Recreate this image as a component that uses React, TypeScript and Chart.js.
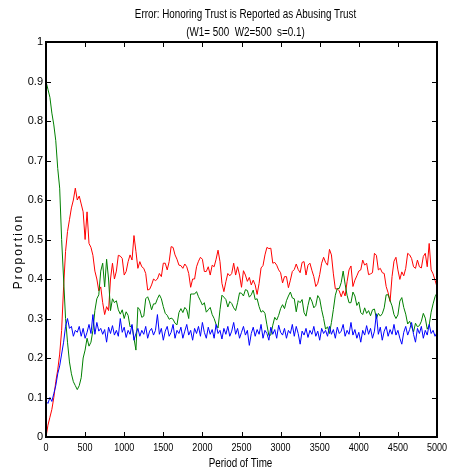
import React, { useEffect, useRef } from "react";
import { Chart, registerables } from "chart.js";

Chart.register(...registerables);

const periods = [
  0, 25, 50, 75, 100, 125, 150, 175, 200, 225, 250, 275, 300, 325, 350, 375, 400, 425, 450, 475,
  500, 525, 550, 575, 600, 625, 650, 675, 700, 725, 750, 775, 800, 825, 850, 875, 900, 925, 950, 975,
  1000, 1025, 1050, 1075, 1100, 1125, 1150, 1175, 1200, 1225, 1250, 1275, 1300, 1325, 1350, 1375, 1400, 1425, 1450, 1475,
  1500, 1525, 1550, 1575, 1600, 1625, 1650, 1675, 1700, 1725, 1750, 1775, 1800, 1825, 1850, 1875, 1900, 1925, 1950, 1975,
  2000, 2025, 2050, 2075, 2100, 2125, 2150, 2175, 2200, 2225, 2250, 2275, 2300, 2325, 2350, 2375, 2400, 2425, 2450, 2475,
  2500, 2525, 2550, 2575, 2600, 2625, 2650, 2675, 2700, 2725, 2750, 2775, 2800, 2825, 2850, 2875, 2900, 2925, 2950, 2975,
  3000, 3025, 3050, 3075, 3100, 3125, 3150, 3175, 3200, 3225, 3250, 3275, 3300, 3325, 3350, 3375, 3400, 3425, 3450, 3475,
  3500, 3525, 3550, 3575, 3600, 3625, 3650, 3675, 3700, 3725, 3750, 3775, 3800, 3825, 3850, 3875, 3900, 3925, 3950, 3975,
  4000, 4025, 4050, 4075, 4100, 4125, 4150, 4175, 4200, 4225, 4250, 4275, 4300, 4325, 4350, 4375, 4400, 4425, 4450, 4475,
  4500, 4525, 4550, 4575, 4600, 4625, 4650, 4675, 4700, 4725, 4750, 4775, 4800, 4825, 4850, 4875, 4900, 4925, 4950, 4975,
  5000,
];

const seriesRed = [
  0.00, 0.03, 0.05, 0.07, 0.10, 0.14, 0.17, 0.21, 0.27, 0.38, 0.47, 0.52, 0.55, 0.58, 0.60, 0.63, 0.60, 0.61, 0.59, 0.57,
  0.50, 0.57, 0.49, 0.48, 0.46, 0.42, 0.40, 0.37, 0.38, 0.34, 0.31, 0.33, 0.32, 0.40, 0.44, 0.40, 0.42, 0.46, 0.458, 0.452,
  0.41, 0.419, 0.444, 0.461, 0.448, 0.51, 0.47, 0.427, 0.444, 0.431, 0.427, 0.414, 0.372, 0.374, 0.385, 0.40, 0.396, 0.40, 0.414, 0.406,
  0.44, 0.44, 0.423, 0.444, 0.482, 0.48, 0.461, 0.45, 0.435, 0.434, 0.427, 0.438, 0.431, 0.414, 0.379, 0.40, 0.40, 0.431, 0.445, 0.455,
  0.45, 0.419, 0.419, 0.431, 0.41, 0.435, 0.431, 0.45, 0.473, 0.444, 0.389, 0.368, 0.393, 0.414, 0.408, 0.414, 0.44, 0.41, 0.431, 0.41,
  0.379, 0.421, 0.41, 0.394, 0.404, 0.385, 0.397, 0.385, 0.361, 0.389, 0.428, 0.434, 0.461, 0.48, 0.477, 0.478, 0.44, 0.442, 0.435, 0.423,
  0.416, 0.39, 0.406, 0.406, 0.378, 0.397, 0.419, 0.424, 0.438, 0.424, 0.416, 0.442, 0.444, 0.41, 0.435, 0.44, 0.422, 0.406, 0.381, 0.389,
  0.411, 0.44, 0.455, 0.442, 0.435, 0.475, 0.461, 0.413, 0.375, 0.375, 0.37, 0.355, 0.37, 0.357, 0.393, 0.423, 0.433, 0.381, 0.397, 0.408,
  0.42, 0.423, 0.448, 0.435, 0.44, 0.411, 0.413, 0.416, 0.465, 0.46, 0.423, 0.427, 0.416, 0.414, 0.381, 0.365, 0.343, 0.406, 0.445, 0.455,
  0.423, 0.399, 0.418, 0.408, 0.427, 0.465, 0.461, 0.452, 0.431, 0.427, 0.448, 0.431, 0.428, 0.457, 0.465, 0.431, 0.49, 0.423, 0.413, 0.397,
  0.38,
];

const seriesGreen = [
  0.90, 0.88, 0.86, 0.82, 0.79, 0.75, 0.68, 0.63, 0.50, 0.40, 0.30, 0.24, 0.19, 0.16, 0.14, 0.13, 0.12, 0.13, 0.15, 0.20,
  0.22, 0.25, 0.23, 0.24, 0.27, 0.32, 0.35, 0.36, 0.42, 0.44, 0.38, 0.45, 0.40, 0.32, 0.35, 0.34, 0.345, 0.322, 0.311, 0.322,
  0.30, 0.317, 0.308, 0.279, 0.282, 0.25, 0.22, 0.328, 0.322, 0.303, 0.306, 0.35, 0.355, 0.342, 0.322, 0.337, 0.337, 0.35, 0.36, 0.35,
  0.33, 0.313, 0.308, 0.298, 0.301, 0.298, 0.288, 0.284, 0.315, 0.325, 0.315, 0.328, 0.322, 0.30, 0.362, 0.362, 0.362, 0.368, 0.355, 0.345,
  0.334, 0.34, 0.316, 0.322, 0.328, 0.31, 0.30, 0.285, 0.276, 0.322, 0.359, 0.354, 0.348, 0.329, 0.343, 0.338, 0.327, 0.32, 0.34, 0.365,
  0.364, 0.357, 0.373, 0.371, 0.354, 0.36, 0.372, 0.348, 0.35, 0.33, 0.316, 0.32, 0.313, 0.284, 0.257, 0.258, 0.283, 0.303, 0.296, 0.308,
  0.325, 0.335, 0.325, 0.345, 0.357, 0.367, 0.352, 0.35, 0.317, 0.345, 0.34, 0.348, 0.315, 0.306, 0.333, 0.354, 0.344, 0.327, 0.333, 0.358,
  0.35, 0.322, 0.30, 0.273, 0.279, 0.262, 0.29, 0.323, 0.359, 0.376, 0.376, 0.391, 0.42, 0.387, 0.359, 0.34, 0.34, 0.367, 0.357, 0.333,
  0.342, 0.315, 0.31, 0.327, 0.313, 0.32, 0.307, 0.322, 0.324, 0.30, 0.313, 0.306, 0.312, 0.327, 0.36, 0.36, 0.345, 0.332, 0.31, 0.30,
  0.309, 0.344, 0.353, 0.328, 0.311, 0.286, 0.293, 0.28, 0.266, 0.288, 0.279, 0.282, 0.293, 0.313, 0.301, 0.273, 0.283, 0.316, 0.337, 0.355,
  0.365,
];

const seriesBlue = [
  0.09, 0.085, 0.10, 0.09, 0.11, 0.13, 0.16, 0.18, 0.21, 0.24, 0.28, 0.30, 0.275, 0.28, 0.255, 0.27, 0.265, 0.28, 0.255, 0.275,
  0.25, 0.265, 0.285, 0.262, 0.31, 0.26, 0.29, 0.268, 0.275, 0.26, 0.272, 0.24, 0.278, 0.262, 0.282, 0.258, 0.27, 0.255, 0.30, 0.265,
  0.278, 0.252, 0.27, 0.26, 0.285, 0.245, 0.262, 0.275, 0.255, 0.27, 0.26, 0.28, 0.25, 0.268, 0.275, 0.258, 0.27, 0.31, 0.26, 0.275,
  0.245, 0.268, 0.28, 0.255, 0.265, 0.285, 0.25, 0.27, 0.262, 0.278, 0.25, 0.268, 0.285, 0.258, 0.27, 0.245, 0.275, 0.262, 0.28, 0.255,
  0.29, 0.265, 0.25, 0.278, 0.26, 0.272, 0.25, 0.285, 0.262, 0.27, 0.248, 0.275, 0.26, 0.28, 0.255, 0.268, 0.29, 0.26, 0.275, 0.25,
  0.265, 0.28, 0.258, 0.27, 0.232, 0.262, 0.278, 0.255, 0.272, 0.26, 0.285, 0.25, 0.27, 0.262, 0.245, 0.278, 0.26, 0.272, 0.25, 0.283,
  0.265, 0.258, 0.275, 0.25, 0.27, 0.262, 0.285, 0.255, 0.28, 0.262, 0.235, 0.268, 0.258, 0.275, 0.252, 0.27, 0.26, 0.28, 0.255, 0.268,
  0.245, 0.275, 0.262, 0.27, 0.255, 0.28, 0.26, 0.272, 0.25, 0.278, 0.262, 0.268, 0.285, 0.255, 0.27, 0.26, 0.29, 0.258, 0.272, 0.25,
  0.265, 0.24, 0.27, 0.258, 0.282, 0.26, 0.275, 0.25, 0.268, 0.312, 0.26, 0.278, 0.245, 0.268, 0.28, 0.255, 0.272, 0.26, 0.285, 0.258,
  0.27, 0.25, 0.235, 0.265, 0.28, 0.258, 0.272, 0.29, 0.26, 0.24, 0.275, 0.262, 0.28, 0.25, 0.27, 0.258, 0.285, 0.262, 0.27, 0.255,
  0.265,
];

const chartTitle = ["Error: Honoring Trust is Reported as Abusing Trust", "(W1= 500  W2=500  s=0.1)"];
const xAxisTitle = "Period of Time";
const yAxisTitle = "Proportion";

const FONT = "'Liberation Sans', Arial, Helvetica, sans-serif";
const SQUEEZE = 0.82;

function narrowText(ctx: CanvasRenderingContext2D, text: string, x: number, y: number, size: number, align: CanvasTextAlign) {
  ctx.save();
  ctx.translate(x, y);
  ctx.scale(SQUEEZE, 1);
  ctx.font = `${size}px ${FONT}`;
  ctx.fillStyle = "#000";
  ctx.textAlign = align;
  ctx.textBaseline = "middle";
  ctx.fillText(text, 0, 0);
  ctx.restore();
}

const framePlugin = {
  id: "matlabFrame",
  afterDraw(chart: any) {
    const { ctx, chartArea, scales } = chart;
    const { left, right, top, bottom } = chartArea;
    const tickLen = 5;
    ctx.save();
    ctx.strokeStyle = "#000";
    ctx.lineWidth = 1;
    ctx.beginPath();
    scales.x.ticks.forEach((t: any) => {
      const px = Math.round(scales.x.getPixelForValue(t.value)) + 0.5;
      ctx.moveTo(px, bottom);
      ctx.lineTo(px, bottom - tickLen);
      ctx.moveTo(px, top);
      ctx.lineTo(px, top + tickLen);
    });
    scales.y.ticks.forEach((t: any) => {
      const py = Math.round(scales.y.getPixelForValue(t.value)) + 0.5;
      ctx.moveTo(left, py);
      ctx.lineTo(left + tickLen, py);
      ctx.moveTo(right, py);
      ctx.lineTo(right - tickLen, py);
    });
    ctx.stroke();
    ctx.lineWidth = 2;
    ctx.strokeRect(left, top, right - left, bottom - top);
    ctx.restore();

    // x tick labels (narrow)
    scales.x.ticks.forEach((t: any) => {
      const px = scales.x.getPixelForValue(t.value);
      narrowText(ctx, String(t.value), px, bottom + 11, 11, "center");
    });

    // chart title (two lines, narrow)
    const cx = (left + right) / 2 + 4;
    narrowText(ctx, chartTitle[0], cx, 15, 12, "center");
    narrowText(ctx, chartTitle[1], cx, 33, 12, "center");

    // x axis title
    narrowText(ctx, xAxisTitle, (left + right) / 2 - 1, 464, 12, "center");

    // y axis title
    ctx.save();
    ctx.translate(19, (top + bottom) / 2 + 12);
    ctx.rotate(-Math.PI / 2);
    ctx.fillStyle = "#000";
    ctx.font = `12px ${FONT}`;
    (ctx as any).letterSpacing = "2px";
    ctx.textAlign = "center";
    ctx.textBaseline = "middle";
    ctx.fillText(yAxisTitle, 0, 0);
    ctx.restore();
  },
};

export default function App() {
  const canvasRef = useRef<HTMLCanvasElement | null>(null);

  useEffect(() => {
    document.body.style.margin = "0";
    const canvas = canvasRef.current;
    if (!canvas) return;
    const toPoints = (vals: number[]) => periods.map((p, i) => ({ x: p, y: vals[i] }));
    const chart = new Chart(canvas, {
      type: "line",
      data: {
        datasets: [
          { label: "Blue", data: toPoints(seriesBlue), borderColor: "#0000ff", borderWidth: 1, pointRadius: 0, tension: 0, fill: false },
          { label: "Green", data: toPoints(seriesGreen), borderColor: "#008000", borderWidth: 1, pointRadius: 0, tension: 0, fill: false },
          { label: "Red", data: toPoints(seriesRed), borderColor: "#ff0000", borderWidth: 1, pointRadius: 0, tension: 0, fill: false },
        ],
      },
      options: {
        animation: false,
        responsive: false,
        devicePixelRatio: 1,
        layout: { padding: { left: 0, right: 13, top: 42, bottom: 0 } },
        plugins: {
          legend: { display: false },
          tooltip: { enabled: false },
          title: { display: false },
        },
        scales: {
          x: {
            type: "linear",
            min: 0,
            max: 5000,
            ticks: { stepSize: 500, display: false, autoSkip: false },
            grid: { display: false, drawTicks: false },
            border: { display: false },
            afterFit: (s: any) => {
              s.height = 34;
            },
          },
          y: {
            type: "linear",
            min: 0,
            max: 1,
            ticks: {
              stepSize: 0.1,
              padding: 3,
              color: "#000",
              font: { family: FONT, size: 11 },
              callback: (v: any) => String(Math.round(Number(v) * 10) / 10),
            },
            grid: { display: false, drawTicks: false },
            border: { display: false },
            afterFit: (s: any) => {
              s.width = 46;
            },
          },
        },
      },
      plugins: [framePlugin],
    } as any);
    return () => chart.destroy();
  }, []);

  return (
    <div style={{ width: 450, height: 471 }}>
      <canvas ref={canvasRef} width={450} height={471} style={{ display: "block", width: 450, height: 471 }} />
    </div>
  );
}
